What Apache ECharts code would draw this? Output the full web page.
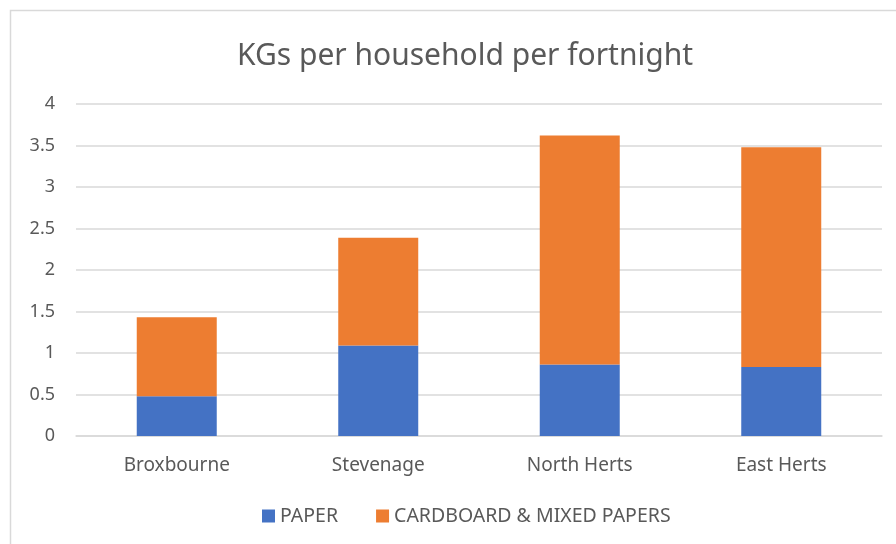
<!DOCTYPE html>
<html lang="en">
<head>
<meta charset="UTF-8">
<title>KGs per household per fortnight</title>
<script src="https://cdn.jsdelivr.net/npm/echarts@6/dist/echarts.min.js"></script>
<style>
  html, body { margin: 0; padding: 0; background: #fff; }
  #chart { width: 896px; height: 544px; }
</style>
</head>
<body>
<div id="chart"></div>
<script>
  var councils = ['Broxbourne', 'Stevenage', 'North Herts', 'East Herts'];
  var paper = [0.48, 1.09, 0.86, 0.83];
  var cardboard = [0.95, 1.30, 2.76, 2.65];
  var seriesNames = ['PAPER', 'CARDBOARD & MIXED PAPERS'];

  var chart = echarts.init(document.getElementById('chart'));
  var font = '"Noto Sans", sans-serif';

  chart.setOption({
    animation: false,
    color: ['#4472C4', '#ED7D31'],
    textStyle: { fontFamily: font },
    // light frame around the chart area (its right/bottom edges fall off the picture)
    graphic: [{
      type: 'rect',
      shape: { x: 10.5, y: 10.5, width: 900, height: 560 },
      style: { fill: 'none', stroke: '#d9d9d9', lineWidth: 1.5 }
    }],
    title: {
      text: 'KGs per household per fortnight',
      left: 460,
      textAlign: 'center',
      top: 36,
      textStyle: { fontFamily: font, fontSize: 30, fontWeight: 'normal', color: '#595959' }
    },
    legend: {
      bottom: 13,
      left: 257,
      itemWidth: 13,
      itemHeight: 13,
      itemGap: 38,
      icon: 'rect',
      textStyle: { fontFamily: font, fontSize: 19.5, color: '#595959' },
      data: seriesNames
    },
    grid: { left: 76, right: 14, top: 104, bottom: 108 },
    xAxis: {
      type: 'category',
      data: councils,
      axisTick: { show: false },
      axisLine: { lineStyle: { color: '#d9d9d9', width: 1.5 } },
      axisLabel: { fontSize: 19, color: '#595959', margin: 20 }
    },
    yAxis: {
      type: 'value',
      min: 0,
      max: 4,
      interval: 0.5,
      axisLine: { show: false },
      axisTick: { show: false },
      axisLabel: { fontSize: 18, color: '#595959', margin: 21 },
      splitLine: { lineStyle: { color: '#d9d9d9', width: 1.5 } }
    },
    series: [
      {
        name: seriesNames[0],
        type: 'bar',
        stack: 'total',
        barWidth: '39.7%',
        data: paper
      },
      {
        name: seriesNames[1],
        type: 'bar',
        stack: 'total',
        barWidth: '39.7%',
        data: cardboard
      }
    ]
  });
</script>
</body>
</html>
